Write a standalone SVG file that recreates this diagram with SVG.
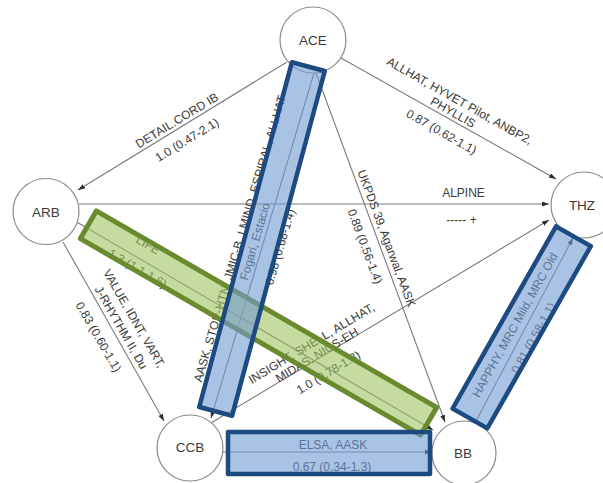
<svg xmlns="http://www.w3.org/2000/svg" width="603" height="483" viewBox="0 0 603 483">
<style>
.bg{fill:#ffffff}
.edge{stroke:#7a7a7a;stroke-width:1.1;fill:none;marker-end:url(#arr)}
.node circle{fill:#ffffff;stroke:#8c8c8c;stroke-width:1.2}
.node text{font-family:"Liberation Sans",Arial,sans-serif;font-size:13.5px;fill:#3a3a3a;text-anchor:middle}
.lbl{font-family:"Liberation Sans",Arial,sans-serif;font-size:12px;fill:#3a3a3a;text-anchor:middle}
.hb{fill:#6f9bd2;fill-opacity:0.6;stroke:#1d4a80;stroke-width:4.5;stroke-linejoin:round}
.hg{fill:#9fc35f;fill-opacity:0.6;stroke:#6a8a2e;stroke-width:5;stroke-linejoin:round}
</style>
<defs>
<marker id="arr" viewBox="0 0 7 5" refX="7" refY="2.5" markerWidth="7" markerHeight="5" orient="auto" markerUnits="userSpaceOnUse">
<path d="M0,0 L7,2.5 L0,5 z" fill="#2e2e2e"/>
</marker>
</defs>
<rect class="bg" x="0" y="0" width="603" height="483"/>
<g id="connectors">
<path class="edge" d="M287,62 L78,190"/>
<path class="edge" d="M341,58 L556,179"/>
<path class="edge" d="M79,204 L549,204"/>
<path class="edge" d="M63,242 L164,421"/>
<path class="edge" d="M314,73 L211,418"/>
<path class="edge" d="M316,73 L445,422"/>
<path class="edge" d="M211,423 L549,220"/>
<path class="edge" d="M223,452 L432,452"/>
<path class="edge" d="M75,221 L433,430"/>
<path class="edge" d="M476,421 L573,238"/>
</g>
<g id="edge-labels">
<text class="lbl" transform="translate(177,120.5) rotate(-31.5)" y="4">DETAIL.CORD IB</text>
<text class="lbl" transform="translate(187,140) rotate(-31.5)" y="4">1.0 (0.47-2.1)</text>
<text class="lbl" transform="translate(459.5,101) rotate(29.4)" y="4">ALLHAT, HYVET Pilot, ANBP2,</text>
<text class="lbl" transform="translate(453,112.5) rotate(29.4)" y="4">PHYLLIS</text>
<text class="lbl" transform="translate(441.5,132) rotate(29.4)" y="4">0.87 (0.62-1.1)</text>
<text class="lbl" x="463.5" y="197">ALPINE</text>
<text class="lbl" x="461.5" y="224">----- +</text>
<text class="lbl" transform="translate(134,318.5) rotate(60)" y="4">VALUE, IDNT, VART,</text>
<text class="lbl" transform="translate(121,327.5) rotate(60)" y="4">J-RHYTHM II, Du</text>
<text class="lbl" transform="translate(98.5,337) rotate(60)" y="4">0.83 (0.60-1.1)</text>
<text class="lbl" transform="translate(240,238.5) rotate(-73.5)" y="4">AASK, STOP-HTN, JMIC-B, LMIND, ESPIRAL, ALLHAT</text>
<text class="lbl" transform="translate(255,241.5) rotate(-73.5)" y="4">Fogari, Estacio</text>
<text class="lbl" transform="translate(280,247) rotate(-73.5)" y="4">0.98 (0.68-1.4)</text>
<text class="lbl" transform="translate(386.5,238.5) rotate(69.5)" y="4">UKPDS 39, Agarwal, AASK</text>
<text class="lbl" transform="translate(365,246.5) rotate(69.5)" y="4">0.89 (0.56-1.4)</text>
<text class="lbl" transform="translate(311.5,343.5) rotate(-31)" y="4">INSIGHT, SHELL, ALLHAT,</text>
<text class="lbl" transform="translate(317,355) rotate(-31)" y="4">MIDAS, NICS-EH</text>
<text class="lbl" transform="translate(328.5,372.5) rotate(-31)" y="4">1.0 (0.78-1.3)</text>
<text class="lbl" x="333" y="449">ELSA, AASK</text>
<text class="lbl" x="332" y="471">0.67 (0.34-1.3)</text>
<text class="lbl" transform="translate(148,245) rotate(30.3)" y="4">LIFE</text>
<text class="lbl" transform="translate(137.5,268.5) rotate(30.3)" y="4">1.3 (1.1-1.6)</text>
<text class="lbl" transform="translate(515,325) rotate(-61)" y="4">HAPPHY, MRC Mild, MRC Old</text>
<text class="lbl" transform="translate(533.5,338) rotate(-61)" y="4">0.81 (0.58-1.1)</text>
</g>
<g id="node-ACE" class="node"><circle cx="313" cy="40" r="33"/><text x="313" y="45">ACE</text></g>
<g id="node-ARB" class="node"><circle cx="46" cy="211.5" r="33"/><text x="46" y="216.5">ARB</text></g>
<g id="node-THZ" class="node"><circle cx="584" cy="205" r="33"/><text x="582" y="210">THZ</text></g>
<g id="node-CCB" class="node"><circle cx="190" cy="448" r="33"/><text x="190" y="452">CCB</text></g>
<g id="node-BB" class="node"><circle cx="464" cy="453" r="32"/><text x="463" y="458">BB</text></g>
<g id="highlights">
<rect class="hg" transform="translate(258.5,323) rotate(30)" x="-196.5" y="-16" width="393" height="32"/>
<rect class="hb" transform="translate(262,239) rotate(15.05)" x="-17" y="-178.5" width="34" height="357"/>
<rect class="hb" x="228" y="432" width="202" height="42"/>
<rect class="hb" transform="translate(521.7,327.3) rotate(29.6)" x="-20" y="-104.75" width="40" height="209.5"/>
</g>
</svg>
